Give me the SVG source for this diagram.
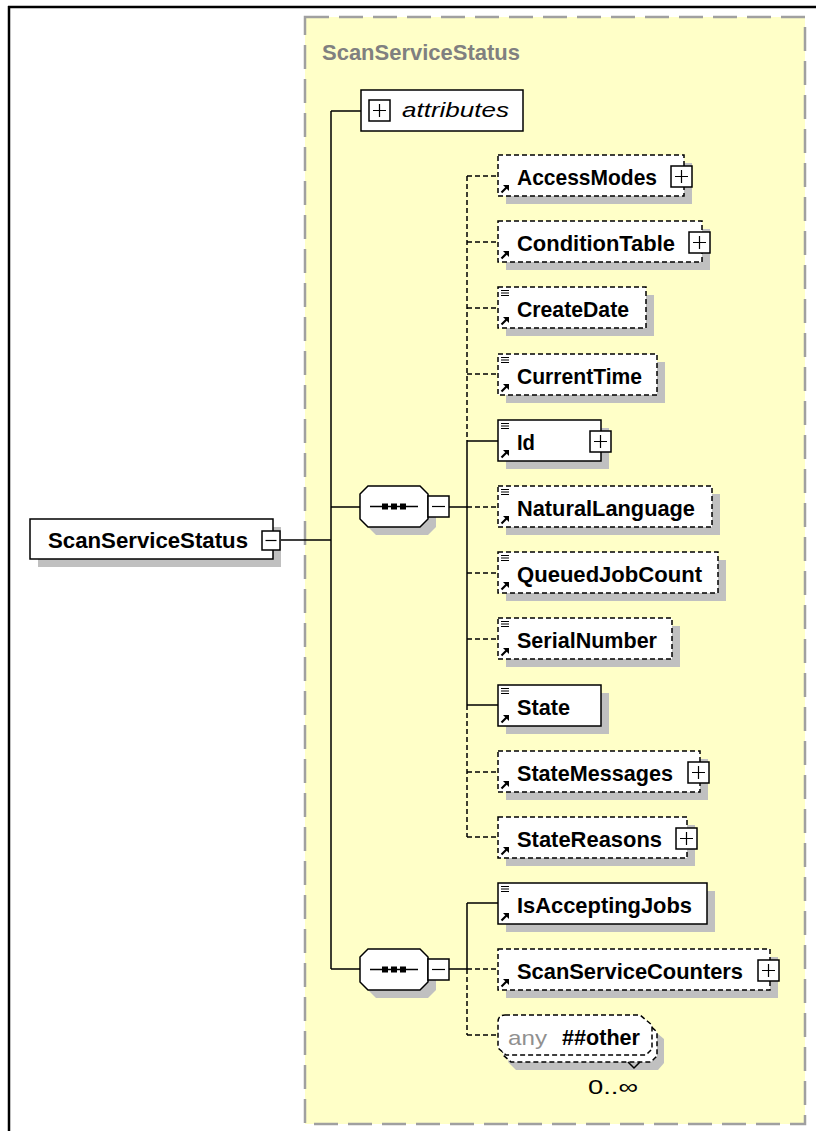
<svg xmlns="http://www.w3.org/2000/svg" width="816" height="1131" viewBox="0 0 816 1131">
<style>
.bx{fill:#fff;stroke:#000;stroke-width:1.5}
.opt{stroke-dasharray:5 3}
.sh{fill:#c0c0c0}
.t{font-family:"Liberation Sans",Arial,sans-serif;font-weight:bold;font-size:22px;fill:#000}
.n{font-family:"Liberation Sans",Arial,sans-serif;font-size:21px;fill:#000}
.c{stroke:#000;stroke-width:1.5;fill:none}
.d{stroke-dasharray:5 3}
.pm{fill:#fff;stroke:#000;stroke-width:1.5}
.ic{stroke:#000;stroke-width:1.2;fill:none}
</style>
<defs>
<g id="refic">
<path d="M3.5,-3.5 L9,-9" stroke="#000" stroke-width="2.2" fill="none"/>
<path d="M5,-11 L11,-11 L11,-5 Z" fill="#000"/>
</g>
<g id="simic">
<path class="ic" d="M3,3.5 H11 M3,6 H11 M3,8.5 H11"/>
</g>
<g id="plus">
<rect class="pm" x="0" y="0" width="21" height="21"/>
<path class="ic" d="M4,10.5 H17 M10.5,4 V17" stroke-width="1.5"/>
</g>
<g id="minus">
<rect class="pm" x="0" y="0" width="21" height="21"/>
<path class="ic" d="M4,10.5 H17" stroke-width="1.5"/>
</g>
<g id="rminus">
<rect class="pm" x="0" y="0" width="18" height="19"/>
<path class="ic" d="M3.5,9.5 H14.5" stroke-width="1.5"/>
</g>
<g id="seq">
<path class="sh" d="M16,8 H68 L76,16 V41 L68,49 H16 L8,41 V16 Z"/>
<path class="bx" d="M8,0 H60 L68,8 V33 L60,41 H8 L0,33 V8 Z"/>
<path class="c" d="M10,20.5 H58"/>
<rect x="22" y="17.5" width="6" height="6" fill="#000"/>
<rect x="31" y="17.5" width="6" height="6" fill="#000"/>
<rect x="40" y="17.5" width="6" height="6" fill="#000"/>
</g>
</defs>

<rect x="0" y="0" width="816" height="1131" fill="#fff"/>
<path d="M8,7 H816 M9,6 V1131" stroke="#000" stroke-width="2.5" fill="none"/>

<g id="group-ScanServiceStatus">
<rect x="305" y="17" width="500" height="1107" fill="#ffffc8" stroke="#a0a0a0" stroke-width="2.5" stroke-dasharray="24 10"/>
<text x="322" y="60" class="t" style="fill:#808080" textLength="198" lengthAdjust="spacingAndGlyphs">ScanServiceStatus</text>
</g>

<g id="connectors">
<path class="c" d="M331,111 V969 M331,111 H361 M280,540 H331 M331,507 H360 M331,969 H360"/>
<path class="c" d="M449,507 H467 M467,441 V705"/>
<path class="c d" d="M467,176 V441 M467,705 V837"/>
<path class="c d" d="M467,176 H498 M467,242 H498 M467,308 H498 M467,374 H498 M467,507 H498 M467,573 H498 M467,639 H498 M467,772 H498 M467,837 H498"/>
<path class="c" d="M467,441 H498 M467,705 H498"/>
<path class="c" d="M449,969 H467 M467,903 V969 M467,903 H498"/>
<path class="c d" d="M467,969 V1035 M467,969 H498 M467,1035 H498"/>
</g>

<g id="node-root">
<rect class="sh" x="38" y="527" width="243" height="40"/>
<rect class="bx" x="30" y="519" width="243" height="40"/>
<text x="48" y="548" class="t" textLength="200" lengthAdjust="spacingAndGlyphs">ScanServiceStatus</text>
<use href="#rminus" x="262" y="531"/>
</g>

<g id="node-attributes">
<rect class="bx" x="361" y="90" width="162" height="41"/>
<use href="#plus" x="369" y="100"/>
<text x="402" y="117" class="n" font-style="italic" textLength="107" lengthAdjust="spacingAndGlyphs">attributes</text>
</g>

<g id="node-seq1">
<use href="#seq" x="360" y="486"/>
<use href="#minus" x="428" y="496"/>
</g>

<g id="node-seq2">
<use href="#seq" x="360" y="949"/>
<use href="#minus" x="428" y="959"/>
</g>

<g id="node-AccessModes">
<rect class="sh" x="506" y="163" width="186" height="41"/>
<rect class="bx opt" x="498" y="155" width="186" height="41"/>
<use href="#refic" x="498" y="196"/>
<text x="517" y="185" class="t" textLength="140" lengthAdjust="spacingAndGlyphs">AccessModes</text>
<use href="#plus" x="671" y="166"/>
</g>

<g id="node-ConditionTable">
<rect class="sh" x="506" y="229" width="204" height="41"/>
<rect class="bx opt" x="498" y="221" width="204" height="41"/>
<use href="#refic" x="498" y="262"/>
<text x="517" y="251" class="t" textLength="158" lengthAdjust="spacingAndGlyphs">ConditionTable</text>
<use href="#plus" x="689" y="232"/>
</g>

<g id="node-CreateDate">
<rect class="sh" x="506" y="295" width="148" height="41"/>
<rect class="bx opt" x="498" y="287" width="148" height="41"/>
<use href="#simic" x="498" y="287"/>
<use href="#refic" x="498" y="328"/>
<text x="517" y="317" class="t" textLength="112" lengthAdjust="spacingAndGlyphs">CreateDate</text>
</g>

<g id="node-CurrentTime">
<rect class="sh" x="506" y="362" width="159" height="41"/>
<rect class="bx opt" x="498" y="354" width="159" height="41"/>
<use href="#simic" x="498" y="354"/>
<use href="#refic" x="498" y="395"/>
<text x="517" y="384" class="t" textLength="125" lengthAdjust="spacingAndGlyphs">CurrentTime</text>
</g>

<g id="node-Id">
<rect class="sh" x="506" y="428" width="103" height="41"/>
<rect class="bx" x="498" y="420" width="103" height="41"/>
<use href="#simic" x="498" y="420"/>
<use href="#refic" x="498" y="461"/>
<text x="517" y="450" class="t" textLength="18" lengthAdjust="spacingAndGlyphs">Id</text>
<use href="#plus" x="590" y="431"/>
</g>

<g id="node-NaturalLanguage">
<rect class="sh" x="506" y="494" width="214" height="41"/>
<rect class="bx opt" x="498" y="486" width="214" height="41"/>
<use href="#simic" x="498" y="486"/>
<use href="#refic" x="498" y="527"/>
<text x="517" y="516" class="t" textLength="178" lengthAdjust="spacingAndGlyphs">NaturalLanguage</text>
</g>

<g id="node-QueuedJobCount">
<rect class="sh" x="506" y="560" width="220" height="41"/>
<rect class="bx opt" x="498" y="552" width="220" height="41"/>
<use href="#simic" x="498" y="552"/>
<use href="#refic" x="498" y="593"/>
<text x="517" y="582" class="t" textLength="185" lengthAdjust="spacingAndGlyphs">QueuedJobCount</text>
</g>

<g id="node-SerialNumber">
<rect class="sh" x="506" y="626" width="174" height="41"/>
<rect class="bx opt" x="498" y="618" width="174" height="41"/>
<use href="#simic" x="498" y="618"/>
<use href="#refic" x="498" y="659"/>
<text x="517" y="648" class="t" textLength="140" lengthAdjust="spacingAndGlyphs">SerialNumber</text>
</g>

<g id="node-State">
<rect class="sh" x="506" y="693" width="103" height="41"/>
<rect class="bx" x="498" y="685" width="103" height="41"/>
<use href="#simic" x="498" y="685"/>
<use href="#refic" x="498" y="726"/>
<text x="517" y="715" class="t" textLength="53" lengthAdjust="spacingAndGlyphs">State</text>
</g>

<g id="node-StateMessages">
<rect class="sh" x="506" y="759" width="202" height="41"/>
<rect class="bx opt" x="498" y="751" width="202" height="41"/>
<use href="#refic" x="498" y="792"/>
<text x="517" y="781" class="t" textLength="156" lengthAdjust="spacingAndGlyphs">StateMessages</text>
<use href="#plus" x="688" y="762"/>
</g>

<g id="node-StateReasons">
<rect class="sh" x="506" y="825" width="189" height="41"/>
<rect class="bx opt" x="498" y="817" width="189" height="41"/>
<use href="#refic" x="498" y="858"/>
<text x="517" y="847" class="t" textLength="145" lengthAdjust="spacingAndGlyphs">StateReasons</text>
<use href="#plus" x="676" y="828"/>
</g>

<g id="node-IsAcceptingJobs">
<rect class="sh" x="506" y="891" width="209" height="41"/>
<rect class="bx" x="498" y="883" width="209" height="41"/>
<use href="#simic" x="498" y="883"/>
<use href="#refic" x="498" y="924"/>
<text x="517" y="913" class="t" textLength="175" lengthAdjust="spacingAndGlyphs">IsAcceptingJobs</text>
</g>

<g id="node-ScanServiceCounters">
<rect class="sh" x="506" y="957" width="272" height="41"/>
<rect class="bx opt" x="498" y="949" width="272" height="41"/>
<use href="#refic" x="498" y="990"/>
<text x="517" y="979" class="t" textLength="226" lengthAdjust="spacingAndGlyphs">ScanServiceCounters</text>
<use href="#plus" x="758" y="960"/>
</g>

<g id="node-any">
<path class="sh" d="M516,1029 H652 L664,1039 V1063 L658,1070 H516 L508,1062 Z"/>
<path class="bx opt" d="M510,1022 H646 L657,1032 V1056 L651,1062 H511 L503,1055 V1029 Q503,1022 510,1022 Z"/>
<path class="bx opt" d="M505,1015 H640 L652,1025 V1049 L646,1055 H506 L498,1048 V1022 Q498,1015 505,1015 Z"/>
<path class="c" d="M628,1062 L634,1068 L640,1062" stroke-width="1.2"/>
<text x="508" y="1045" class="n" style="fill:#909090" textLength="39" lengthAdjust="spacingAndGlyphs">any</text>
<text x="562" y="1045" class="t" textLength="78" lengthAdjust="spacingAndGlyphs">##other</text>
<text x="588" y="1094" class="n" textLength="50" lengthAdjust="spacingAndGlyphs">0..∞</text>
</g>
</svg>
